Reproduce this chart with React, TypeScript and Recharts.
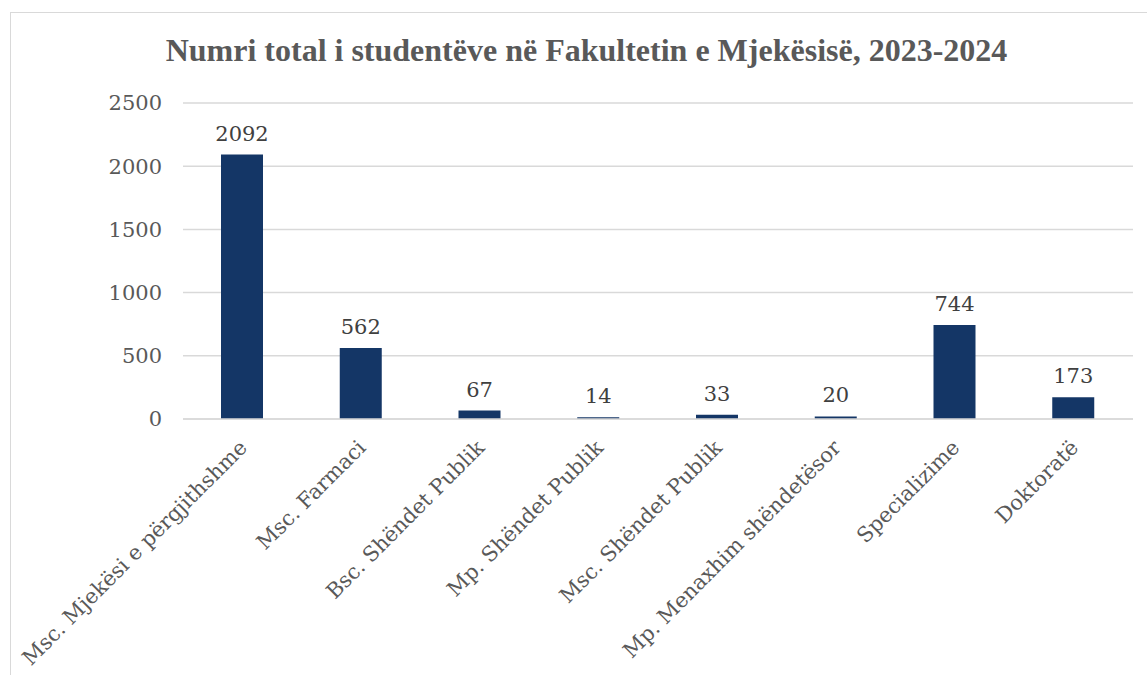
import React from "react";
import { BarChart, Bar, XAxis, YAxis, CartesianGrid, LabelList } from "recharts";

const categories = [
  "Msc. Mjekësi e përgjithshme",
  "Msc. Farmaci",
  "Bsc. Shëndet Publik",
  "Mp. Shëndet Publik",
  "Msc. Shëndet Publik",
  "Mp. Menaxhim shëndetësor",
  "Specializime",
  "Doktoratë",
];
const students = [2092, 562, 67, 14, 33, 20, 744, 173];
const yTicks = [0, 500, 1000, 1500, 2000, 2500];
const title = "Numri total i studentëve në Fakultetin e Mjekësisë, 2023-2024";

const data = categories.map((name, i) => ({ name, value: students[i] }));

const FONT = "'DejaVu Serif', serif";
const TEXT = "#595959";

const CatTick = (props: any) => {
  const { x, y, payload } = props;
  return (
    <g transform={`translate(${x + 6},${y + 22}) rotate(-45)`}>
      <text x={0} y={0} textAnchor="end" fill={TEXT} fontFamily={FONT} fontSize={21}>
        {payload.value}
      </text>
    </g>
  );
};

export default function App() {
  return (
    <div style={{ position: "absolute", left: 0, top: 0, width: 1147, height: 675, background: "#fff", overflow: "hidden" }}>
      <div style={{ position: "absolute", left: 10, top: 12, width: 1160, height: 700, border: "1px solid #d9d9d9", boxSizing: "border-box" }} />
      <div style={{ position: "absolute", left: 0, top: 32, width: 1173, textAlign: "center", fontFamily: "'Liberation Serif', serif", fontWeight: "bold", fontSize: 32, color: TEXT, whiteSpace: "nowrap" }}>
        {title}
      </div>
      <div style={{ position: "absolute", left: 0, top: 0 }}>
        <BarChart width={1147} height={675} data={data} margin={{ top: 103, right: 14, bottom: 0, left: 0 }} barCategoryGap="32%">
          <CartesianGrid vertical={false} stroke="#d9d9d9" strokeWidth={1.5} />
          <XAxis
            dataKey="name"
            interval={0}
            height={256}
            tickLine={false}
            axisLine={{ stroke: "#d9d9d9", strokeWidth: 1.5 }}
            tick={<CatTick />}
          />
          <YAxis
            width={183}
            domain={[0, 2500]}
            ticks={yTicks}
            tickLine={false}
            axisLine={false}
            tickMargin={15}
            tick={{ fill: TEXT, fontFamily: FONT, fontSize: 21 }}
          />
          <Bar dataKey="value" fill="#143666" barSize={42} isAnimationActive={false}>
            <LabelList dataKey="value" position="top" offset={14} fill="#404040" fontFamily={FONT} fontSize={21} />
          </Bar>
        </BarChart>
      </div>
    </div>
  );
}
